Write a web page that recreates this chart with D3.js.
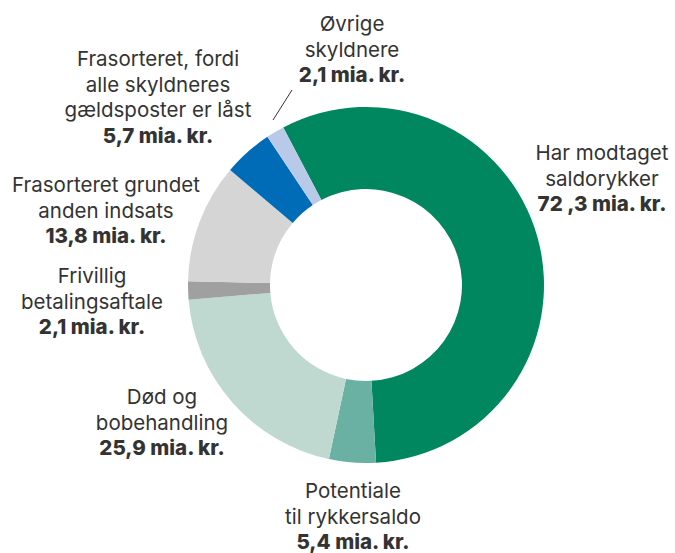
<!DOCTYPE html>
<html>
<head>
<meta charset="utf-8">
<script src="https://cdn.jsdelivr.net/npm/d3@7"></script>
<style>
	body { margin: 0; background: #fff; }
	svg text { font-family: Inter, Roboto, "Noto Sans", sans-serif; fill: #333; }
</style>
</head>
<body>
<svg id="donut" width="675" height="553"></svg>
<script>
// Data, clockwise from the top
const names = [
	"Har modtaget saldorykker",
	"Potentiale til rykkersaldo",
	"Død og bobehandling",
	"Frivillig betalingsaftale",
	"Frasorteret grundet anden indsats",
	"Frasorteret, fordi alle skyldneres gældsposter er låst",
	"Øvrige skyldnere"
];
const values = [72.3, 5.4, 25.9, 2.1, 13.8, 5.7, 2.1];
const colors = ["#00875f", "#6bb1a3", "#bfd9d0", "#a0a0a0", "#d5d5d5", "#006cb8", "#b9cae9"];

// label lines (last line bold)
const labelLines = [
	["Har modtaget", "saldorykker", "72 ,3 mia. kr."],
	["Potentiale", "til rykkersaldo", "5,4 mia. kr."],
	["Død og", "bobehandling", "25,9 mia. kr."],
	["Frivillig", "betalingsaftale", "2,1 mia. kr."],
	["Frasorteret grundet", "anden indsats", "13,8 mia. kr."],
	["Frasorteret, fordi", "alle skyldneres", "gældsposter er låst", "5,7 mia. kr."],
	["Øvrige", "skyldnere", "2,1 mia. kr."]
];
// label anchor (center x, first baseline)
const labelPos = [[602, 160], [353, 498], [162, 404], [92, 283], [106, 192], [158, 66], [352, 31]];

const svg = d3.select("#donut");
const cx = 366, cy = 285;
const outerR = 178, innerR = 96;
const start = -27.7 * Math.PI / 180;

const pie = d3.pie()
	.sort(null)
	.value((d) => d)
	.startAngle(start)
	.endAngle(start + 2 * Math.PI);

const arc = d3.arc().innerRadius(innerR).outerRadius(outerR);

svg.append("g")
	.attr("transform", `translate(${cx},${cy})`)
	.selectAll("path")
	.data(pie(values))
	.join("path")
	.attr("d", arc)
	.attr("fill", (d, i) => colors[i]);

// leader line for the small slice at the top
svg.append("line")
	.attr("x1", 292).attr("y1", 90)
	.attr("x2", 273).attr("y2", 120)
	.attr("stroke", "#333")
	.attr("stroke-width", 1);

const lineHeight = 25.5;
const labels = svg.append("g")
	.attr("text-anchor", "middle")
	.style("font-size", "20.5px");

labelLines.forEach((lines, i) => {
	const t = labels.append("text")
		.attr("x", labelPos[i][0])
		.attr("y", labelPos[i][1]);
	lines.forEach((line, j) => {
		t.append("tspan")
			.attr("x", labelPos[i][0])
			.attr("dy", j === 0 ? 0 : lineHeight)
			.style("font-weight", j === lines.length - 1 ? "800" : "400")
			.text(line);
	});
});
</script>
</body>
</html>
